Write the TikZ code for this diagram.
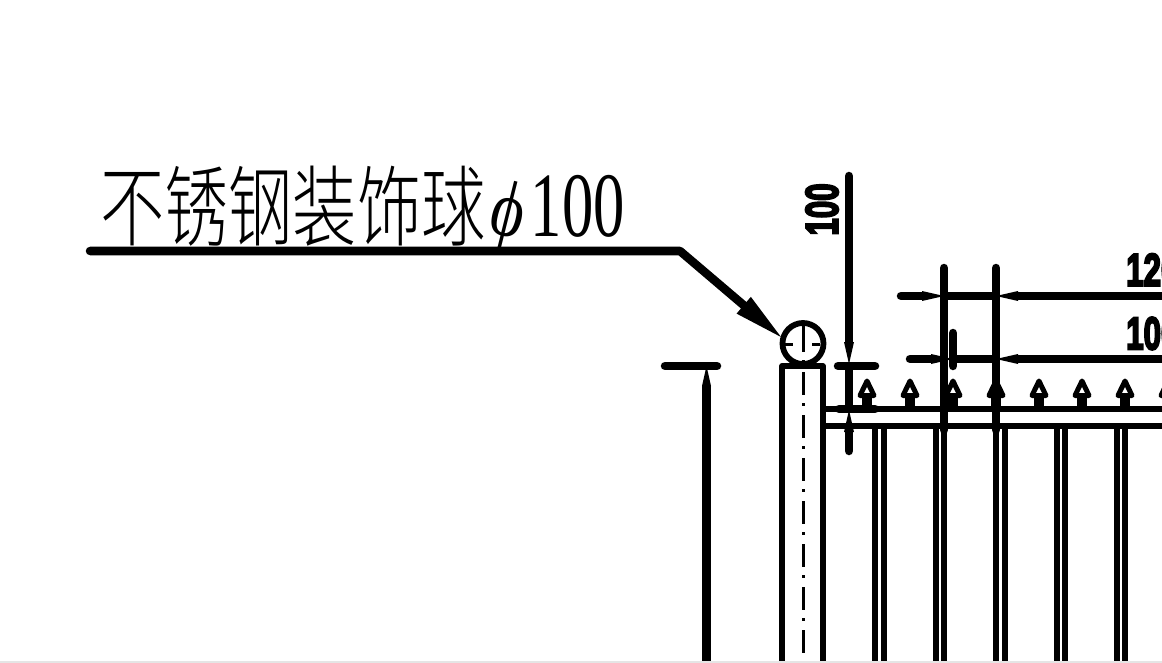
\documentclass[tikz,border=0pt]{standalone}
\usepackage{graphicx}
\usepackage{fontspec}
\setmainfont{Liberation Serif}
\newfontfamily\cjk{Noto Sans CJK SC Light}
\newfontfamily\dimfont[FakeBold=5]{Liberation Sans Bold}
\usetikzlibrary{arrows.meta}
\tikzset{
  thickline/.style = {line width=8.5pt, line cap=round, line join=round},
  wall/.style = {line width=5.8pt, line join=round},
  axisline/.style = {line width=3pt},
  rail/.style = {line width=6pt},
  dimarrow/.style = {thickline, -{Triangle[length=22pt,width=10pt,line width=0pt]}},
  dimtext/.style = {inner sep=0pt, font=\dimfont\fontsize{46}{46}\selectfont}
}

\begin{document}
\begin{tikzpicture}[x=1pt,y=-1pt]
  \useasboundingbox (0,0) rectangle (1162,663);
  \clip (0,0) rectangle (1162,663);
  % label and leader
  \node (balllabel) at (100,240) [anchor=base west, inner sep=0pt] {\fontsize{88}{88}\selectfont\scalebox{.73}[1]{\cjk 不锈钢装饰球}\hspace{-3pt}\raisebox{4pt}{\rotatebox[origin=c]{-14}{\scalebox{.8}[1]{\fontsize{80}{80}\selectfont ϕ}}}\hspace{-2pt}\raisebox{3pt}{\scalebox{.68}[1]{\fontsize{92}{92}\selectfont 100}}};
  \draw[thickline, -{Triangle[length=49pt,width=22pt,line width=0pt]}] (90,251) -- (680,251) -- (781,337);
  % post and ball
  \draw[wall] (803,343.5) circle (20.5pt);
  \draw[wall] (782,661) -- (782,366) -- (823,366) -- (823,661);
  \draw[axisline] (803,321) -- (803,352);
  \draw[axisline] (785,344) -- (793,344);
  \draw[axisline] (812,344) -- (820,344);
  \draw[axisline, dash pattern=on 3pt off 9pt on 23pt off 8pt] (803,360) -- (803,661);
  % rails
  \draw[rail] (823,409) -- (1162,409);
  \draw[rail] (823,426) -- (1162,426);
  \foreach \x in {867,910,953,996,1039,1082,1125,1168} {
    \draw[line width=5pt, line join=round] (\x,381) -- (\x-7,395.5) -- (\x+7,395.5) -- cycle;
    \draw[line width=9.5pt] (\x,397) -- (\x,409);
  }
  \foreach \x in {875.3,935.7,996.1,1056.5,1116.9} {
    \draw[rail] (\x,426) -- (\x,661);
    \draw[rail] (\x+8.4,426) -- (\x+8.4,661);
  }
  % left height dimension
  \draw[thickline] (665,366) -- (717,366);
  \draw[line width=8.5pt, -{Triangle[length=20pt,width=9pt,line width=0pt]}] (706.5,661) -- (706.5,366);
  % ball dimension
  \draw[thickline] (838,366) -- (875,366);
  \draw[thickline] (839,409) -- (875,409);
  \draw[dimarrow] (849,176) -- (849,364);
  \draw[thickline] (849,366) -- (849,409);
  \draw[dimarrow] (849,451) -- (849,410);
  \node (balldim) at (822,209.5) [dimtext, rotate=90] {\scalebox{.68}[1]{100}};
  % bar dimensions
  \draw[thickline] (944,268) -- (944,430);
  \draw[thickline] (996,268) -- (996,430);
  \draw[thickline] (953,333) -- (953,366);
  \draw[dimarrow] (901,296) -- (944,296);
  \draw[thickline] (944,296) -- (996,296);
  \draw[dimarrow] (1170,296) -- (996,296);
  \draw[dimarrow] (910,359) -- (953,359);
  \draw[thickline] (953,359) -- (996,359);
  \draw[dimarrow] (1170,359) -- (996,359);
  \node (gapdim) at (1126,270) [dimtext, anchor=west] {\scalebox{.68}[1]{120}};
  \node (bardim) at (1126,333.5) [dimtext, anchor=west] {\scalebox{.68}[1]{100}};
  % bottom edge
  \fill[gray!20] (0,661) rectangle (1162,663);
\end{tikzpicture}
\end{document}
